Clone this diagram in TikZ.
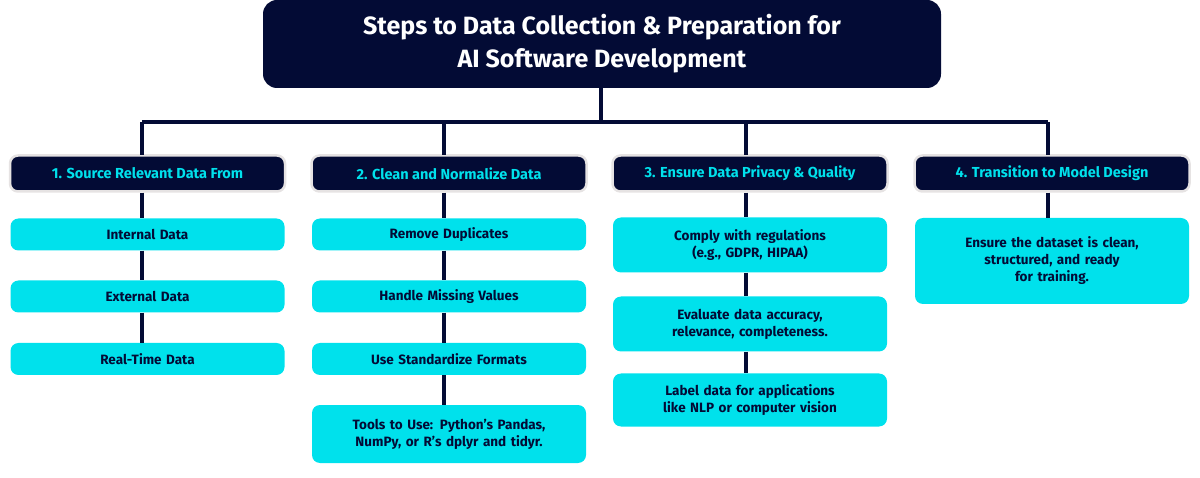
\documentclass[tikz,border=0pt]{standalone}
\usepackage{fontspec}
\setmainfont{Fira Sans}
\definecolor{navy}{HTML}{030B35}
\definecolor{cy}{HTML}{00E1EC}
\definecolor{bord}{HTML}{E6E3E3}
\begin{document}
\begin{tikzpicture}[x=1pt,y=-1pt,
  conn/.style={navy,line width=3.5pt},
  hdr/.style={fill=navy,draw=bord,line width=2.5pt,rounded corners=8pt,minimum width=275pt,minimum height=36pt,text=cy,font=\fontsize{14.5}{17}\selectfont\bfseries,inner sep=0pt},
  item/.style={fill=cy,rounded corners=8pt,minimum width=274pt,text=navy,font=\fontsize{13.5}{17}\selectfont\bfseries,align=center,inner sep=0pt,text width=260pt}]
\useasboundingbox (0,0) rectangle (1200,478);
\node[fill=navy,rounded corners=14pt,minimum width=678pt,minimum height=88pt,text=white,align=center,font=\fontsize{25}{33}\selectfont\bfseries] (t) at (602,44) {Steps to Data Collection \& Preparation for\\AI Software Development};
\coordinate (j) at (601,122);
\node[hdr] (h1) at (147.5,173.5) {1. Source Relevant Data From};
\node[hdr] (h2) at (449,173.5) {2. Clean and Normalize Data};
\node[hdr] (h3) at (750,173.5) {3. Ensure Data Privacy \& Quality};
\node[hdr] (h4) at (1052,173.5) {4. Transition to Model Design};
\draw[conn] (t.south -| j) -- (j);
\draw[conn] (142,122) -- (1048,122);
\foreach \x/\h in {142/h1,444/h2,746/h3,1048/h4}{\draw[conn] (\x,122) -- (\x,155);}
\node[item,minimum height=32pt] (a1) at (147.5,234.5) {Internal Data};
\node[item,minimum height=32pt] (a2) at (147.5,296.5) {External Data};
\node[item,minimum height=32pt] (a3) at (147.5,359) {Real-Time Data};
\node[item,minimum height=32pt] (b1) at (449,234.5) {Remove Duplicates};
\node[item,minimum height=32pt] (b2) at (449,296.5) {Handle Missing Values};
\node[item,minimum height=32pt] (b3) at (449,359) {Use Standardize Formats};
\node[item,minimum height=58pt] (b4) at (449,434) {Tools to Use: Python’s Pandas,\\NumPy, or R’s dplyr and tidyr.};
\node[item,minimum height=55pt] (c1) at (750,245) {Comply with regulations\\(e.g., GDPR, HIPAA)};
\node[item,minimum height=55pt] (c2) at (750,324) {Evaluate data accuracy,\\relevance, completeness.};
\node[item,minimum height=53pt] (c3) at (750,400) {Label data for applications\\like NLP or computer vision};
\node[item,minimum height=86pt] (d1) at (1052,261) {Ensure the dataset is clean,\\structured, and ready\\for training.};
\begin{scope}[on background layer/.style={}]
\foreach \u/\v/\x in {h1/a1/142,a1/a2/142,a2/a3/142,h2/b1/444,b1/b2/444,b2/b3/444,b3/b4/444,h3/c1/746,c1/c2/746,c2/c3/746,h4/d1/1048}
  \draw[conn] (\u.south -| \x,0) -- (\v.north -| \x,0);
\end{scope}
\end{tikzpicture}
\end{document}
